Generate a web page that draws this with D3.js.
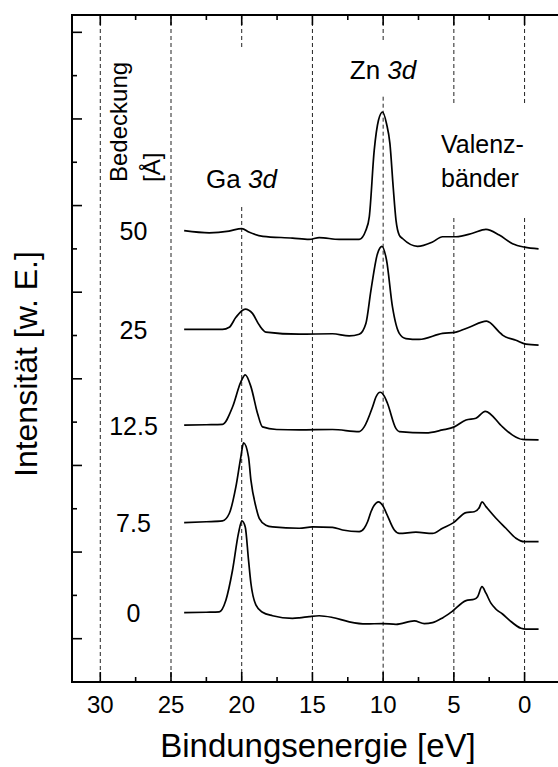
<!DOCTYPE html>
<html>
<head>
<meta charset="utf-8">
<title>Bindungsenergie</title>
<script src="https://d3js.org/d3.v7.min.js"></script>
<style>
  body { margin: 0; background: #fff; }
  text { font-family: "Liberation Sans", Arial, sans-serif; fill: #000; }
</style>
</head>
<body>
<div id="chart"></div>
<script>
// Bedeckung in Angstrom, von unten nach oben
let coverages = ["0", "7.5", "12.5", "25", "50"];

// Spektren: [Bindungsenergie eV, Intensitaet w. E.]
let spec0 = [[24.07,1.60],[22.5,1.61],[21.59,1.62],[21.12,1.89],[20.65,2.58],[20.23,3.43],[19.99,3.72],[19.75,3.58],
  [19.52,2.82],[19.35,2.28],[19.00,1.78],[18.53,1.61],[17.82,1.53],[16.41,1.47],[15.93,1.48],[15.23,1.51],[14.52,1.53],
  [13.58,1.49],[12.40,1.39],[11.22,1.34],[10.04,1.35],[9.09,1.33],[7.80,1.41],[7.09,1.35],[6.51,1.37],[5.80,1.48],
  [5.16,1.62],[4.14,1.88],[3.56,1.91],[3.32,1.97],[3.01,2.20],[2.73,2.05],[2.38,1.82],[2.02,1.68],[1.56,1.57],
  [1.08,1.43],[0.25,1.24],[-0.10,1.22],[-0.99,1.22]];

let spec7_5 = [[24.07,3.68],[22.5,3.70],[21.36,3.72],[20.88,3.89],[20.41,4.51],[20.06,5.20],[19.87,5.52],[19.52,5.20],
  [19.35,4.66],[19.00,4.05],[18.76,3.78],[18.29,3.62],[17.82,3.58],[15.93,3.55],[14.99,3.58],[13.58,3.57],[12.87,3.51],
  [11.69,3.47],[11.34,3.55],[11.10,3.70],[10.86,3.93],[10.63,4.08],[10.33,4.16],[10.04,4.08],[9.76,3.89],[9.21,3.51],
  [8.86,3.43],[7.68,3.46],[6.51,3.43],[5.80,3.55],[5.02,3.68],[4.14,3.91],[3.56,3.93],[3.20,4.03],[3.01,4.16],
  [2.73,4.05],[2.02,3.78],[1.32,3.55],[0.61,3.32],[0.02,3.24],[-0.99,3.24]];

let spec12_5 = [[24.07,5.93],[22.5,5.94],[21.36,5.95],[20.65,6.35],[20.06,6.93],[19.75,7.09],[19.35,6.82],[18.88,6.20],
  [18.53,5.89],[17.53,5.83],[15.93,5.82],[13.58,5.83],[11.69,5.78],[11.34,5.89],[10.75,6.35],[10.51,6.58],[10.21,6.69],
  [9.92,6.60],[9.69,6.43],[9.09,5.85],[8.86,5.78],[6.97,5.75],[5.80,5.82],[4.97,5.89],[4.14,6.05],[3.44,6.09],
  [2.78,6.25],[1.56,5.89],[0.85,5.70],[0.14,5.60],[-0.99,5.59]];

let spec25 = [[24.07,8.14],[22.5,8.14],[21.36,8.14],[20.88,8.19],[20.41,8.42],[19.75,8.61],[19.24,8.51],[18.76,8.24],
  [18.29,8.08],[15.93,8.03],[13.58,8.04],[12.40,7.99],[11.69,8.03],[11.22,8.28],[10.86,9.05],[10.40,9.89],[10.08,10.06],
  [9.76,9.74],[9.34,8.66],[8.86,8.05],[8.39,7.93],[7.45,7.91],[5.80,8.05],[4.85,8.08],[3.91,8.19],[2.69,8.33],
  [1.79,8.08],[1.56,8.01],[0.61,7.89],[-0.10,7.80],[-0.99,7.78]];

let spec50 = [[24.07,10.42],[22.3,10.37],[20.9,10.41],[19.99,10.47],[19.5,10.39],[18.5,10.29],[16.41,10.25],[15.23,10.22],
  [14.52,10.26],[13.11,10.22],[11.69,10.22],[11.22,10.43],[10.98,10.74],[10.63,12.28],[10.33,12.97],[10.04,13.16],
  [9.76,12.89],[9.52,12.43],[9.29,11.43],[9.09,10.66],[8.86,10.32],[8.63,10.24],[7.57,10.06],[6.51,10.16],[5.80,10.28],
  [4.85,10.28],[3.68,10.36],[2.73,10.45],[1.79,10.32],[0.85,10.12],[0,10.04],[-0.99,10.00]];

let spectra = [spec0, spec7_5, spec12_5, spec25, spec50];

let xMajor = [30, 25, 20, 15, 10, 5, 0];
let xMinor = [27.5, 22.5, 17.5, 12.5, 7.5, 2.5];
let yMajor = [1, 3, 5, 7, 9, 11, 13, 15];
let yMinor = [2, 4, 6, 8, 10, 12, 14];

let w = 558, h = 767;
let pTop = 15, pBottom = 682, pLeft = 72;

let svg = d3.select("#chart").append("svg")
    .attr("width", w)
    .attr("height", h);

let x = d3.scaleLinear().domain([32, -3]).range([pLeft, 567]);
let y = d3.scaleLinear().domain([0, 15.4]).range([pBottom, pTop]);

// gestrichelte Linien, mit Luecken hinter den Beschriftungen
let gaps = {20: [50, 207], 10: [41.7, 96.7], 5: [103, 218], 0: [103, 218]};
xMajor.forEach(function(e) {
    let segs = gaps[e] ? [[pTop, gaps[e][0]], [gaps[e][1], pBottom]] : [[pTop, pBottom]];
    segs.forEach(function(s) {
        svg.append("line")
            .attr("x1", x(e)).attr("x2", x(e))
            .attr("y1", s[0]).attr("y2", s[1])
            .attr("stroke", "#222")
            .attr("stroke-width", 1)
            .attr("stroke-dasharray", "4,3");
    });
});

// Spektren
let line = d3.line()
    .x(function(d) { return x(d[0]); })
    .y(function(d) { return y(d[1]); })
    .curve(d3.curveMonotoneX);

svg.selectAll("path.spec")
    .data(spectra)
    .enter()
    .append("path")
    .attr("class", "spec")
    .attr("d", line)
    .attr("fill", "none")
    .attr("stroke", "#000")
    .attr("stroke-width", 1.7)
    .attr("stroke-linejoin", "round");

// Bedeckungswerte links neben den Kurven
svg.selectAll("text.cov")
    .data(spectra)
    .enter()
    .append("text")
    .attr("class", "cov")
    .attr("x", 133.5)
    .attr("y", function(d) { return y(d[0][1]) + 9.5; })
    .attr("text-anchor", "middle")
    .attr("font-size", "25px")
    .text(function(d, i) { return coverages[i]; });

// Achsen (Rahmen links, oben, unten)
let axisColor = "#000";
svg.append("line").attr("x1", pLeft).attr("x2", pLeft).attr("y1", pTop - 1).attr("y2", pBottom + 1)
    .attr("stroke", axisColor).attr("stroke-width", 2);
svg.append("line").attr("x1", pLeft).attr("x2", w).attr("y1", pTop).attr("y2", pTop)
    .attr("stroke", axisColor).attr("stroke-width", 1.8);
svg.append("line").attr("x1", pLeft).attr("x2", w).attr("y1", pBottom).attr("y2", pBottom)
    .attr("stroke", axisColor).attr("stroke-width", 1.8);

function xTicks(vals, len) {
    vals.forEach(function(e) {
        svg.append("line").attr("x1", x(e)).attr("x2", x(e)).attr("y1", pBottom).attr("y2", pBottom - len)
            .attr("stroke", axisColor).attr("stroke-width", 1.6);
        svg.append("line").attr("x1", x(e)).attr("x2", x(e)).attr("y1", pTop).attr("y2", pTop + len)
            .attr("stroke", axisColor).attr("stroke-width", 1.6);
    });
}
xTicks(xMajor, 10);
xTicks(xMinor, 5);

function yTicks(vals, len) {
    vals.forEach(function(v) {
        svg.append("line").attr("x1", pLeft).attr("x2", pLeft + len).attr("y1", y(v)).attr("y2", y(v))
            .attr("stroke", axisColor).attr("stroke-width", 1.6);
    });
}
yTicks(yMajor, 10);
yTicks(yMinor, 5);

svg.selectAll("text.xtick")
    .data(xMajor)
    .enter()
    .append("text")
    .attr("class", "xtick")
    .attr("x", function(d) { return x(d); })
    .attr("y", 712.5)
    .attr("text-anchor", "middle")
    .attr("font-size", "24px")
    .text(function(d) { return d; });

// Achsentitel
svg.append("text")
    .attr("x", 318)
    .attr("y", 757)
    .attr("text-anchor", "middle")
    .attr("font-size", "33px")
    .text("Bindungsenergie [eV]");

svg.append("text")
    .attr("transform", "translate(37,477) rotate(-90)")
    .attr("text-anchor", "start")
    .attr("font-size", "32px")
    .text("Intensität [w. E.]");

// Beschriftungen der Banden
let zn = svg.append("text").attr("x", 383).attr("y", 79).attr("text-anchor", "middle").attr("font-size", "26px");
zn.append("tspan").text("Zn ");
zn.append("tspan").attr("font-style", "italic").text("3d");

let ga = svg.append("text").attr("x", 241.5).attr("y", 188).attr("text-anchor", "middle").attr("font-size", "26px");
ga.append("tspan").text("Ga ");
ga.append("tspan").attr("font-style", "italic").text("3d");

svg.append("text").attr("x", 441).attr("y", 153).attr("font-size", "25px").text("Valenz-");
svg.append("text").attr("x", 441).attr("y", 187).attr("font-size", "25px").text("bänder");

svg.append("text")
    .attr("transform", "translate(127,182) rotate(-90)")
    .attr("font-size", "24px")
    .text("Bedeckung");
svg.append("text")
    .attr("transform", "translate(160,182) rotate(-90)")
    .attr("font-size", "24px")
    .text("[Å]");
</script>
</body>
</html>
